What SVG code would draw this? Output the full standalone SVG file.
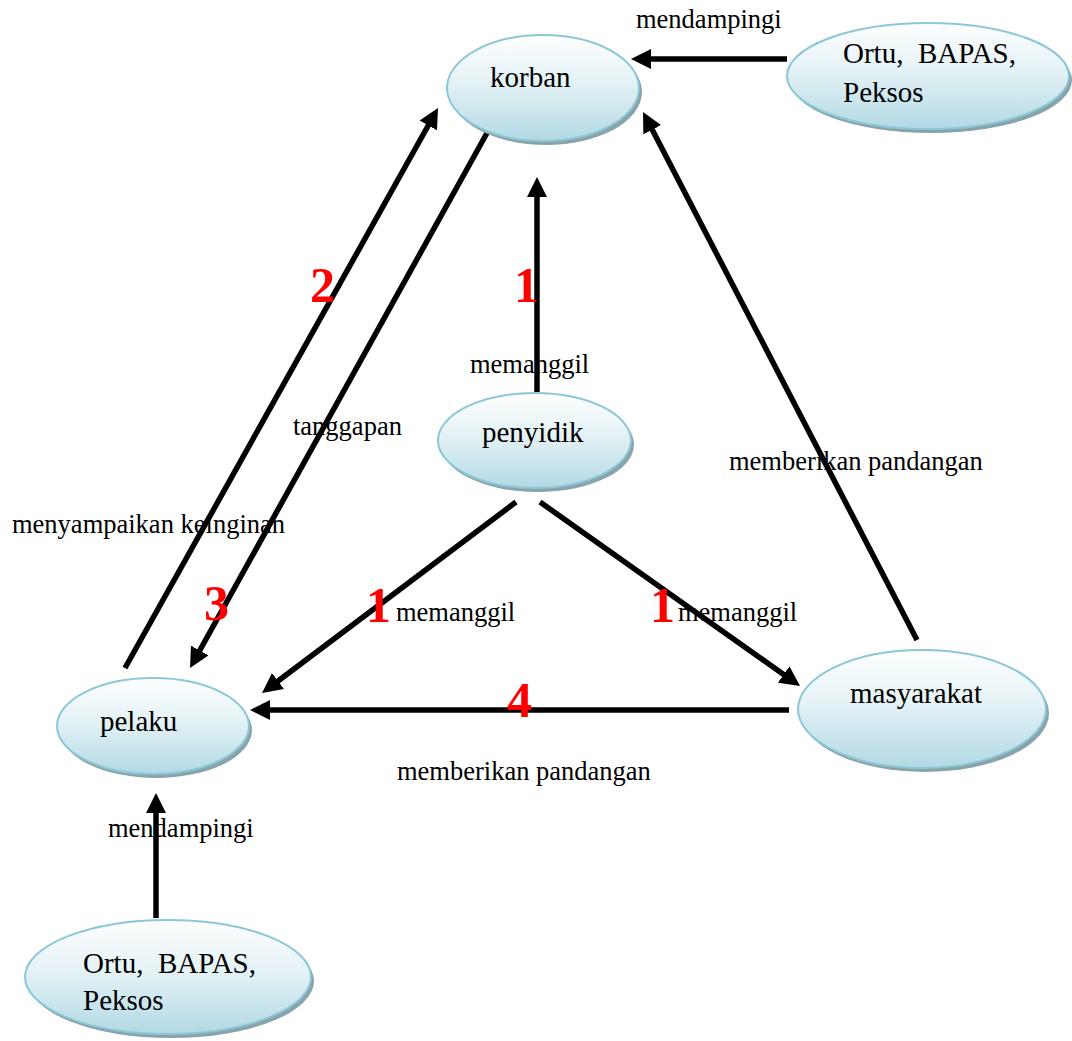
<svg xmlns="http://www.w3.org/2000/svg" width="1072" height="1041" viewBox="0 0 1072 1041">
  <defs>
    <linearGradient id="bubble" x1="0" y1="0" x2="0" y2="1">
      <stop offset="0" stop-color="#fefefe"/>
      <stop offset="0.45" stop-color="#e4f2f6"/>
      <stop offset="1" stop-color="#b2d9e4"/>
    </linearGradient>
    <marker id="head" markerUnits="userSpaceOnUse" markerWidth="20" markerHeight="20" refX="12" refY="10" orient="auto">
      <path d="M0,0 L20,10 L0,20 z" fill="#000"/>
    </marker>
  </defs>
  <style>
    .shadow { fill: #89a3ab; }
    .node { fill: url(#bubble); stroke: #8bc7d7; stroke-width: 2; }
    .nlabel { font-family: "Liberation Serif", "Times New Roman", serif; font-size: 29px; fill: #000; white-space: pre; }
    .elabel { font-family: "Liberation Serif", "Times New Roman", serif; font-size: 26.5px; fill: #000; }
    .step { font-family: "Liberation Serif", "Times New Roman", serif; font-size: 50px; font-weight: bold; fill: #ff0000; }
    .arrow { stroke: #000; stroke-width: 5.5; fill: none; marker-end: url(#head); }
  </style>

  <rect width="1072" height="1041" fill="#fff"/>

  <!-- connectors -->
  <g id="connectors">
    <line class="arrow" x1="787" y1="59" x2="639" y2="59"/>
    <line class="arrow" x1="537" y1="392" x2="537" y2="185"/>
    <line class="arrow" x1="125" y1="668" x2="434.1" y2="115"/>
    <line class="arrow" x1="487" y1="133" x2="193.9" y2="661"/>
    <line class="arrow" x1="917" y1="640" x2="646.7" y2="119.1"/>
    <line class="arrow" x1="516" y1="502" x2="268.4" y2="688.2"/>
    <line class="arrow" x1="540" y1="502" x2="793.5" y2="681.4"/>
    <line class="arrow" x1="789" y1="710" x2="258" y2="710"/>
    <line class="arrow" x1="156" y1="918" x2="156" y2="801"/>
  </g>

  <!-- nodes -->
  <g id="korban">
    <ellipse class="shadow" cx="546" cy="92" rx="96" ry="53"/>
    <ellipse class="node" cx="543" cy="88" rx="96" ry="53"/>
    <text class="nlabel" x="490" y="87">korban</text>
  </g>
  <g id="ortu-korban">
    <ellipse class="shadow" cx="931" cy="80" rx="141" ry="53"/>
    <ellipse class="node" cx="928" cy="76" rx="141" ry="53"/>
    <text class="nlabel" x="843" y="63">Ortu,  BAPAS,</text>
    <text class="nlabel" x="843" y="102">Peksos</text>
  </g>
  <g id="penyidik">
    <ellipse class="shadow" cx="537.5" cy="444.5" rx="96.5" ry="47.5"/>
    <ellipse class="node" cx="534.5" cy="440.5" rx="96.5" ry="47.5"/>
    <text class="nlabel" x="482" y="442">penyidik</text>
  </g>
  <g id="pelaku">
    <ellipse class="shadow" cx="156" cy="730" rx="96" ry="48"/>
    <ellipse class="node" cx="153" cy="726" rx="96" ry="48"/>
    <text class="nlabel" x="100" y="731">pelaku</text>
  </g>
  <g id="masyarakat">
    <ellipse class="shadow" cx="925" cy="713" rx="124" ry="59"/>
    <ellipse class="node" cx="922" cy="709" rx="124" ry="59"/>
    <text class="nlabel" x="850" y="703">masyarakat</text>
  </g>
  <g id="ortu-pelaku">
    <ellipse class="shadow" cx="171" cy="981" rx="143" ry="57"/>
    <ellipse class="node" cx="168" cy="977" rx="143" ry="57"/>
    <text class="nlabel" x="83" y="973">Ortu,  BAPAS,</text>
    <text class="nlabel" x="83" y="1010">Peksos</text>
  </g>

  <!-- edge labels -->
  <g id="labels">
    <text class="elabel" x="636" y="28">mendampingi</text>
    <text class="elabel" x="470" y="373">memanggil</text>
    <text class="elabel" x="293" y="435">tanggapan</text>
    <text class="elabel" x="729" y="470">memberikan pandangan</text>
    <text class="elabel" x="12" y="533">menyampaikan keinginan</text>
    <text class="elabel" x="396" y="621">memanggil</text>
    <text class="elabel" x="678" y="621">memanggil</text>
    <text class="elabel" x="397" y="780">memberikan pandangan</text>
    <text class="elabel" x="108" y="837">mendampingi</text>
  </g>

  <!-- step numbers -->
  <g id="steps">
    <text class="step" x="310" y="302">2</text>
    <text class="step" x="514" y="302">1</text>
    <text class="step" x="204" y="620">3</text>
    <text class="step" x="366" y="622">1</text>
    <text class="step" x="650" y="622">1</text>
    <text class="step" x="507" y="717">4</text>
  </g>
</svg>
